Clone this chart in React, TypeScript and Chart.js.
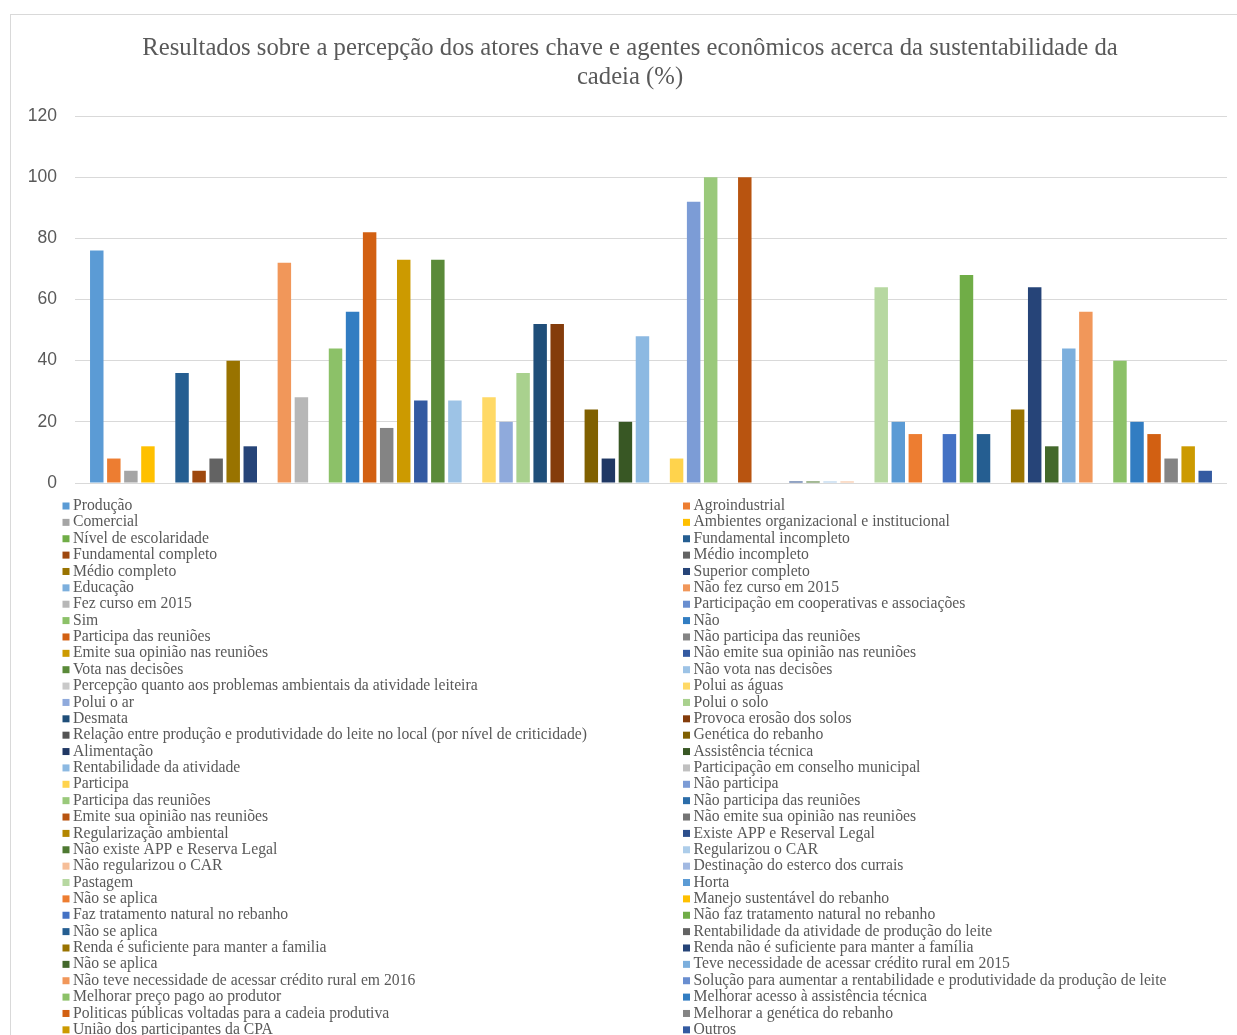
import React, { useEffect, useRef } from 'react';
import { Chart, registerables } from 'chart.js';

Chart.register(...registerables);

const TITLE_LINES = [
  'Resultados sobre a percepção dos atores chave e agentes econômicos acerca da sustentabilidade da',
  'cadeia (%)',
];

const CATEGORY_LABELS = [''];

const SERIES_NAMES = [
  'Produção',
  'Agroindustrial',
  'Comercial',
  'Ambientes organizacional e institucional',
  'Nível de escolaridade',
  'Fundamental incompleto',
  'Fundamental completo',
  'Médio incompleto',
  'Médio completo',
  'Superior completo',
  'Educação',
  'Não fez curso em 2015',
  'Fez curso em 2015',
  'Participação em cooperativas e associações',
  'Sim',
  'Não',
  'Participa das reuniões',
  'Não participa das reuniões',
  'Emite sua opinião nas reuniões',
  'Não emite sua opinião nas reuniões',
  'Vota nas decisões',
  'Não vota nas decisões',
  'Percepção quanto aos problemas ambientais da atividade leiteira',
  'Polui as águas',
  'Polui o ar',
  'Polui o solo',
  'Desmata',
  'Provoca erosão dos solos',
  'Relação entre produção e produtividade do leite no local (por nível de criticidade)',
  'Genética do rebanho',
  'Alimentação',
  'Assistência técnica',
  'Rentabilidade da atividade',
  'Participação em conselho municipal',
  'Participa',
  'Não participa',
  'Participa das reuniões',
  'Não participa das reuniões',
  'Emite sua opinião nas reuniões',
  'Não emite sua opinião nas reuniões',
  'Regularização ambiental',
  'Existe APP e Reserval Legal',
  'Não existe APP e Reserva Legal',
  'Regularizou o CAR',
  'Não regularizou o CAR',
  'Destinação do esterco dos currais',
  'Pastagem',
  'Horta',
  'Não se aplica',
  'Manejo sustentável do rebanho',
  'Faz tratamento natural no rebanho',
  'Não faz tratamento natural no rebanho',
  'Não se aplica',
  'Rentabilidade da atividade de produção do leite',
  'Renda é suficiente para manter a familia',
  'Renda não é suficiente para manter a família',
  'Não se aplica',
  'Teve necessidade de acessar crédito rural em 2015',
  'Não teve necessidade de acessar crédito rural em 2016',
  'Solução para aumentar a rentabilidade e produtividade da produção de leite',
  'Melhorar preço pago ao produtor',
  'Melhorar acesso à assistência técnica',
  'Politicas públicas voltadas para a cadeia produtiva',
  'Melhorar a genética do rebanho',
  'União dos participantes da CPA',
  'Outros',
];

const SERIES_VALUES = [
  76, 8, 4, 12,
  0, 36, 4, 8, 40, 12,
  0, 72, 28,
  0, 44, 56, 82, 18, 73, 27, 73, 27,
  0, 28, 20, 36, 52, 52,
  0, 24, 8, 20, 48,
  0, 8, 92, 100, 0, 100, 0,
  0, 0.5, 0.5, 0.5, 0.5,
  0, 64, 20, 16,
  0, 16, 68, 16,
  0, 24, 64, 12, 44, 56,
  0, 40, 20, 16, 8, 12, 4,
];

// Position of each series in the Office colour cycle (1-based)
const SERIES_COLOR_INDEX = [
  1, 2, 3, 4, 6, 7, 8, 9, 10, 11, 13, 14, 15, 17, 18, 19, 20, 21, 22, 23, 24, 25,
  27, 28, 29, 30, 31, 32, 33, 34, 35, 36, 37, 39, 40, 41, 42, 43, 44, 45, 46, 47,
  48, 49, 50, 53, 54, 55, 56, 58, 59, 60, 61, 63, 64, 65, 66, 67, 68, 71, 72, 73,
  74, 75, 76, 77,
];

const ACCENTS = ['#5B9BD5', '#ED7D31', '#A5A5A5', '#FFC000', '#4472C4', '#70AD47'];
const VARIANTS: [number, number][] = [
  [1, 0], [0.6, 0], [0.8, 0.2], [0.8, 0], [0.6, 0.4], [0.5, 0], [0.7, 0.3], [0.7, 0], [0.5, 0.5],
];

const Y_MIN = 0;
const Y_MAX = 120;
const Y_STEP = 20;

function hexToRgb(hex: string): [number, number, number] {
  const n = parseInt(hex.slice(1), 16);
  return [(n >> 16) & 255, (n >> 8) & 255, n & 255];
}

function shade(hex: string, mod: number, off: number): string {
  const [r0, g0, b0] = hexToRgb(hex).map((v) => v / 255);
  const max = Math.max(r0, g0, b0);
  const min = Math.min(r0, g0, b0);
  let l = (max + min) / 2;
  let h = 0;
  let s = 0;
  const d = max - min;
  if (d > 0) {
    s = d / (1 - Math.abs(2 * l - 1));
    if (max === r0) h = ((g0 - b0) / d) % 6;
    else if (max === g0) h = (b0 - r0) / d + 2;
    else h = (r0 - g0) / d + 4;
    h *= 60;
    if (h < 0) h += 360;
  }
  l = Math.min(1, Math.max(0, l * mod + off));
  const c = (1 - Math.abs(2 * l - 1)) * s;
  const x = c * (1 - Math.abs(((h / 60) % 2) - 1));
  const m = l - c / 2;
  let rgb: number[];
  if (h < 60) rgb = [c, x, 0];
  else if (h < 120) rgb = [x, c, 0];
  else if (h < 180) rgb = [0, c, x];
  else if (h < 240) rgb = [0, x, c];
  else if (h < 300) rgb = [x, 0, c];
  else rgb = [c, 0, x];
  return (
    '#' +
    rgb
      .map((v) => Math.round((v + m) * 255).toString(16).padStart(2, '0'))
      .join('')
  );
}

function officeColor(idx: number): string {
  const p = idx - 1;
  const accent = ACCENTS[p % 6];
  const [mod, off] = VARIANTS[Math.floor(p / 6) % VARIANTS.length];
  return shade(accent, mod, off);
}

const TEXT_COLOR = '#595959';
const GRID_COLOR = '#D9D9D9';

const twoColumnLegend = {
  id: 'twoColumnLegend',
  afterDraw(chart: any) {
    const ctx = chart.ctx as CanvasRenderingContext2D;
    ctx.save();
    ctx.font = '15.7px "Liberation Serif"';
    ctx.textBaseline = 'middle';
    ctx.textAlign = 'left';
    chart.data.datasets.forEach((ds: any, i: number) => {
      const col = i % 2;
      const row = Math.floor(i / 2);
      const x = col === 0 ? 51.5 : 672;
      const y = 491 + row * 16.37;
      ctx.fillStyle = ds.backgroundColor;
      ctx.fillRect(x, y - 3.5, 7, 7);
      ctx.fillStyle = TEXT_COLOR;
      ctx.fillText(ds.label, x + 10.5, y);
    });
    ctx.restore();
  },
};

// let the value-axis labels extend into the left layout padding
const widenTickLabelArea = {
  id: 'widenTickLabelArea',
  afterLayout(chart: any) {
    const y = chart.scales.y;
    if (y) y.left = 0;
  },
};

function BarChart() {
  const canvasRef = useRef<HTMLCanvasElement | null>(null);

  useEffect(() => {
    if (!canvasRef.current) return;
    const datasets = SERIES_NAMES.map((name, i) => ({
      label: name,
      data: [SERIES_VALUES[i]],
      backgroundColor: officeColor(SERIES_COLOR_INDEX[i]),
      borderWidth: 0,
      categoryPercentage: 0.977,
      barPercentage: 0.79,
    }));
    const chart = new Chart(canvasRef.current, {
      type: 'bar',
      data: { labels: CATEGORY_LABELS, datasets },
      options: {
        responsive: false,
        animation: false,
        layout: { padding: { left: 22, right: 10, top: 0, bottom: 552 } },
        plugins: {
          legend: { display: false },
          tooltip: { enabled: false },
          title: {
            display: true,
            text: TITLE_LINES,
            color: TEXT_COLOR,
            font: { family: '"Liberation Serif"', size: 24.7, weight: 'normal', lineHeight: 29 / 24.7 },
            padding: { top: 19, bottom: 24 },
          },
        },
        scales: {
          x: {
            display: false,
            offset: true,
          },
          y: {
            min: Y_MIN,
            max: Y_MAX,
            ticks: {
              stepSize: Y_STEP,
              color: TEXT_COLOR,
              padding: 18,
              font: { family: '"Liberation Sans"', size: 17.5 },
            },
            grid: { color: GRID_COLOR, drawTicks: false, lineWidth: 1 },
            border: { display: false },
            afterFit: (scale: any) => {
              scale.width = 42;
            },
          },
        },
      },
      plugins: [twoColumnLegend, widenTickLabelArea],
    });
    return () => chart.destroy();
  }, []);

  return (
    <canvas
      ref={canvasRef}
      width={1226}
      height={1020}
      style={{ display: 'block', width: 1226, height: 1020 }}
    />
  );
}

export default function App() {
  return (
    <div style={{ position: 'absolute', left: 0, top: 0, width: 1237, height: 1035, overflow: 'hidden', background: '#fff' }}>
      <div
        style={{
          position: 'absolute',
          left: 10,
          top: 14,
          width: 1226,
          height: 1020,
          borderTop: `1px solid ${GRID_COLOR}`,
          borderLeft: `1px solid ${GRID_COLOR}`,
          borderRight: `1px solid ${GRID_COLOR}`,
          background: '#fff',
        }}
      >
        <BarChart />
      </div>
    </div>
  );
}
